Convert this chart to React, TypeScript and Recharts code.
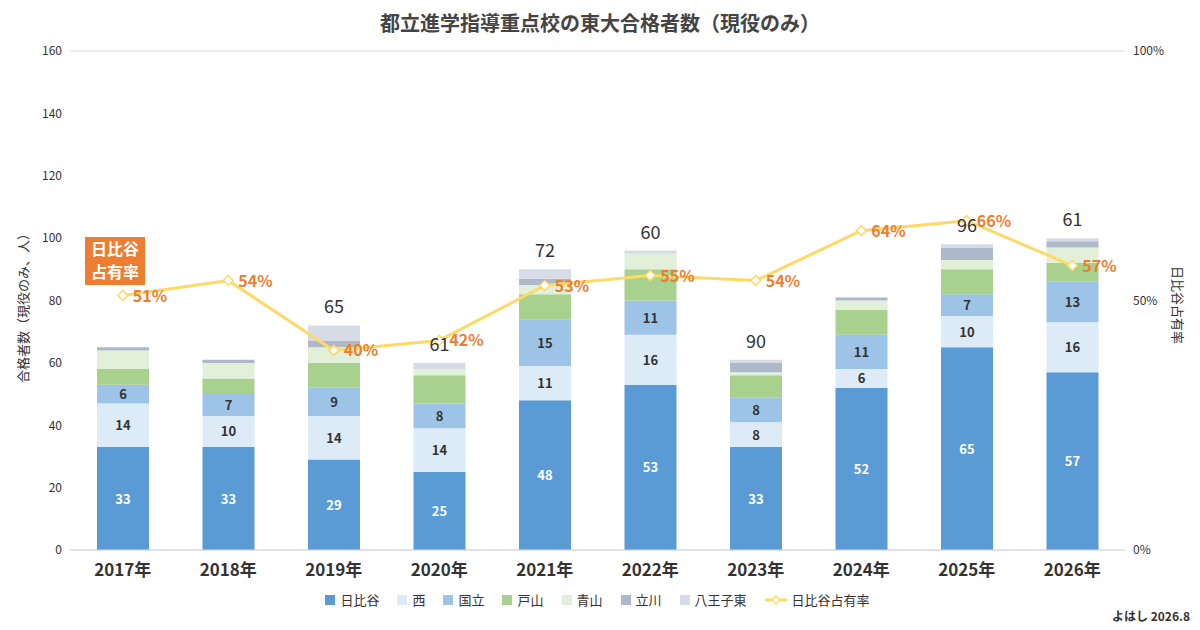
import React from 'react';
import { ComposedChart, Bar, Line, XAxis, YAxis, CartesianGrid, Legend, LabelList } from 'recharts';

const years = ['2017年', '2018年', '2019年', '2020年', '2021年', '2022年', '2023年', '2024年', '2025年', '2026年'];
const hibiya = [33, 33, 29, 25, 48, 53, 33, 52, 65, 57];
const nishi = [14, 10, 14, 14, 11, 16, 8, 6, 10, 16];
const kunitachi = [6, 7, 9, 8, 15, 11, 8, 11, 7, 13];
const toyama = [5, 5, 8, 9, 8, 10, 7, 8, 8, 6];
const aoyama = [6, 5, 5, 2, 3, 5, 1, 3, 3, 5];
const tachikawa = [1, 1, 2, 0, 2, 0, 3, 1, 4, 2];
const hachioji = [0, 0, 5, 2, 3, 1, 1, 0, 1, 1];
const share = [51, 54, 40, 42, 53, 55, 54, 64, 66, 57];

const data = years.map((y, i) => ({
  year: y,
  hibiya: hibiya[i],
  nishi: nishi[i],
  kunitachi: kunitachi[i],
  toyama: toyama[i],
  aoyama: aoyama[i],
  tachikawa: tachikawa[i],
  hachioji: hachioji[i],
  total: hibiya[i] + nishi[i] + kunitachi[i] + toyama[i] + aoyama[i] + tachikawa[i] + hachioji[i],
  share: share[i],
}));

const series = [
  { key: 'hibiya', name: '日比谷', color: '#5b9bd5', label: '#fff' },
  { key: 'nishi', name: '西', color: '#ddebf7', label: '#333' },
  { key: 'kunitachi', name: '国立', color: '#9dc3e6', label: '#333' },
  { key: 'toyama', name: '戸山', color: '#a9d18e' },
  { key: 'aoyama', name: '青山', color: '#e2f0d9' },
  { key: 'tachikawa', name: '立川', color: '#adb9ca' },
  { key: 'hachioji', name: '八王子東', color: '#d6dce5' },
];

const font = '"Noto Sans CJK JP", "Noto Sans", sans-serif';

const inner = (fill: string) => (props: any) => {
  const { x, y, width, height, value } = props;
  return (
    <text x={x + width / 2} y={y + height / 2 + 5} textAnchor="middle" fontSize={13} fontWeight={700} fill={fill}>
      {value}
    </text>
  );
};

const totalLabel = (props: any) => {
  const { x, y, width, index } = props;
  return (
    <text x={x + width / 2} y={y - 12} textAnchor="middle" fontSize={18} fill="#333">
      {data[index].total}
    </text>
  );
};

const shareLabel = (props: any) => {
  const { x, y, value } = props;
  return (
    <text x={x + 10} y={y + 6} fontSize={16} fontWeight={700} fill="#ed7d31">
      {value}%
    </text>
  );
};

const Diamond = (props: any) => {
  const { cx, cy, index } = props;
  return <path key={index} d={`M${cx} ${cy - 5}L${cx + 5} ${cy}L${cx} ${cy + 5}L${cx - 5} ${cy}Z`} fill="#fff" stroke="#ffd966" strokeWidth={1.5} />;
};

const LegendBox = () => (
  <div style={{ display: 'flex', justifyContent: 'center', gap: 18, fontSize: 13, color: '#333' }}>
    {series.map((s) => (
      <span key={s.key} style={{ display: 'flex', alignItems: 'center', gap: 5 }}>
        <span style={{ width: 10, height: 10, background: s.color, display: 'inline-block' }} />
        {s.name}
      </span>
    ))}
    <span style={{ display: 'flex', alignItems: 'center', gap: 5 }}>
      <svg width={22} height={10}>
        <line x1={0} y1={5} x2={22} y2={5} stroke="#ffd966" strokeWidth={3} />
        <path d="M11 1L15 5L11 9L7 5Z" fill="#fff" stroke="#ffd966" strokeWidth={1.5} />
      </svg>
      日比谷占有率
    </span>
  </div>
);

export default function App() {
  return (
    <div style={{ position: 'relative', width: 1200, height: 630, margin: -8, background: '#fff', fontFamily: font }}>
      <div style={{ position: 'absolute', top: 8, width: 1200, textAlign: 'center', fontSize: 20, fontWeight: 700, color: '#444' }}>
        都立進学指導重点校の東大合格者数（現役のみ）
      </div>
      <ComposedChart width={1200} height={630} data={data} margin={{ top: 51, right: 20, bottom: 10, left: 15 }} style={{ fontFamily: font }}>
        <CartesianGrid vertical={false} stroke="#d9d9d9" />
        <XAxis dataKey="year" axisLine={{ stroke: '#d9d9d9' }} tickLine={false} tick={{ fontSize: 17, fill: '#333', fontWeight: 700 }} dy={6} height={40} />
        <YAxis yAxisId="l" domain={[0, 160]} ticks={[0, 20, 40, 60, 80, 100, 120, 140, 160]} axisLine={false} tickLine={false} tick={{ fontSize: 12, fill: '#333' }} width={55} />
        <YAxis yAxisId="r" orientation="right" domain={[0, 100]} ticks={[0, 50, 100]} tickFormatter={(v) => `${v}%`} axisLine={false} tickLine={false} tick={{ fontSize: 12, fill: '#333' }} width={55} />
        <Legend verticalAlign="bottom" height={30} content={<LegendBox />} />
        {series.map((s, i) => (
          <Bar key={s.key} yAxisId="l" dataKey={s.key} name={s.name} stackId="a" fill={s.color} barSize={52} isAnimationActive={false}>
            {s.label && <LabelList dataKey={s.key} content={inner(s.label)} />}
            {i === series.length - 1 && <LabelList dataKey="total" content={totalLabel} />}
          </Bar>
        ))}
        <Line yAxisId="r" dataKey="share" name="日比谷占有率" stroke="#ffd966" strokeWidth={3} dot={<Diamond />} isAnimationActive={false}>
          <LabelList dataKey="share" content={shareLabel} />
        </Line>
      </ComposedChart>
      <div style={{ position: 'absolute', left: 85, top: 237, width: 60, height: 48, background: '#ed7d31', color: '#fff', fontSize: 16, fontWeight: 700, lineHeight: '23px', textAlign: 'center' }}>
        日比谷<br />占有率
      </div>
      <div style={{ position: 'absolute', left: 22, top: 305, transform: 'translate(-50%,-50%) rotate(-90deg)', whiteSpace: 'nowrap', fontSize: 13, color: '#333' }}>
        合格者数（現役のみ、人）
      </div>
      <div style={{ position: 'absolute', left: 1178, top: 305, transform: 'translate(-50%,-50%) rotate(90deg)', whiteSpace: 'nowrap', fontSize: 13, color: '#333' }}>
        日比谷占有率
      </div>
      <div style={{ position: 'absolute', right: 10, bottom: 6, fontSize: 12, fontWeight: 700, color: '#333' }}>よはし 2026.8</div>
    </div>
  );
}
